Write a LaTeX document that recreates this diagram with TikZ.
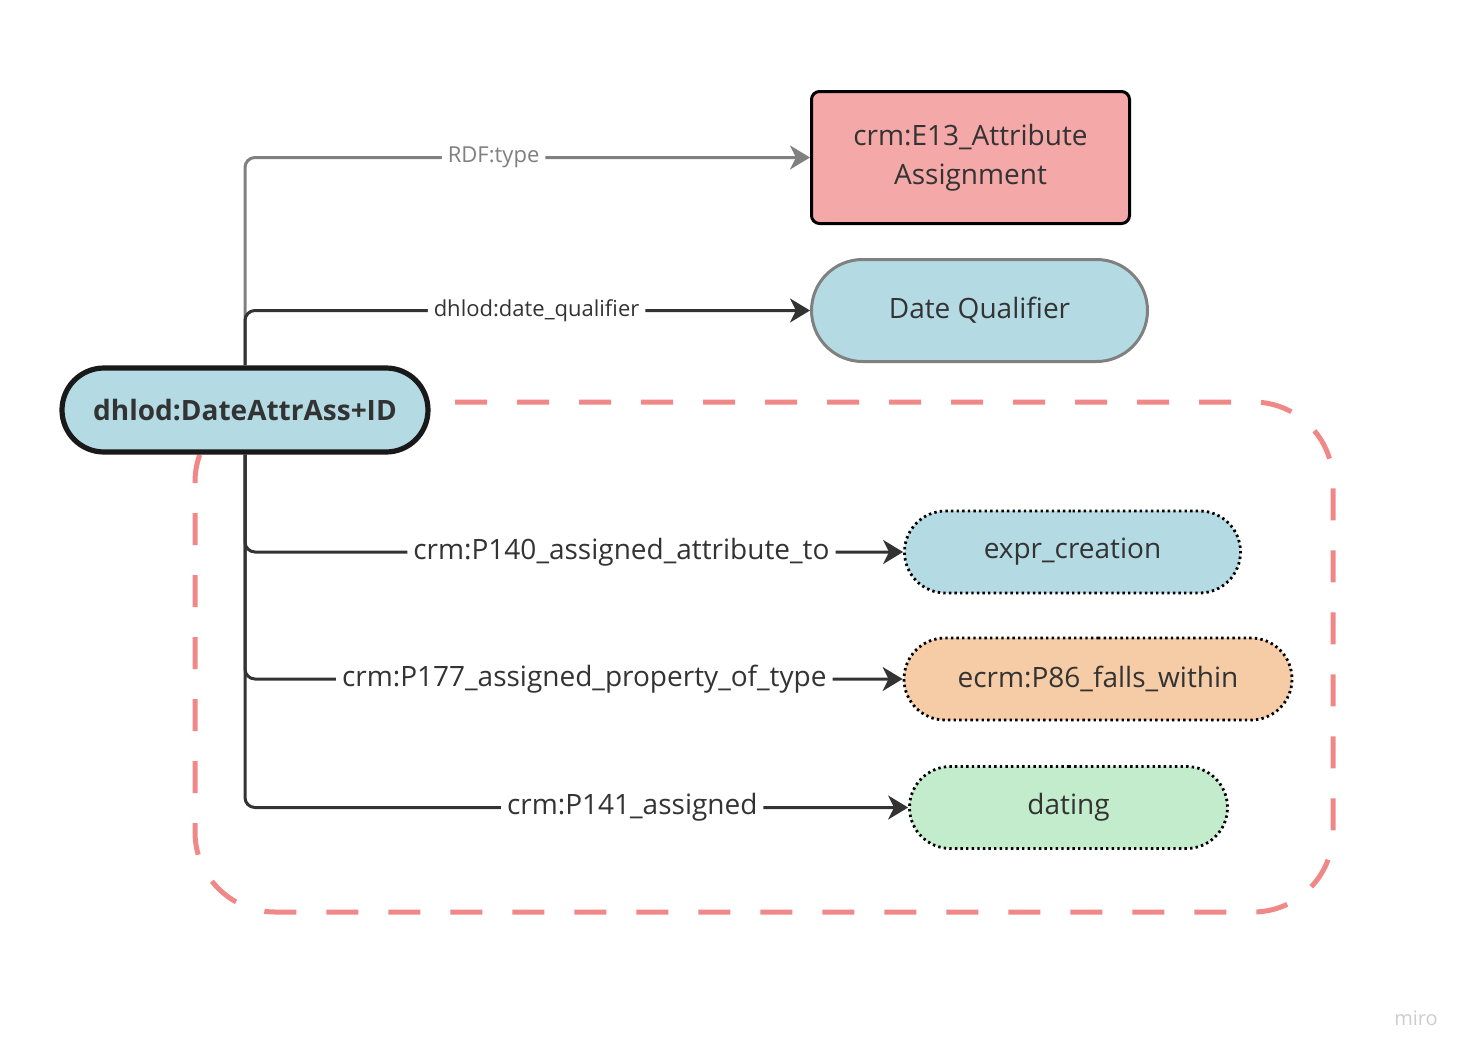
\documentclass[tikz,border=0pt]{standalone}
\usepackage{fontspec}
\setmainfont{Open Sans}
\usetikzlibrary{arrows.meta, shapes.misc}
\definecolor{nodeblue}{RGB}{180, 219, 228}
\definecolor{nodepink}{RGB}{245, 168, 168}
\definecolor{nodepeach}{RGB}{245, 204, 165}
\definecolor{nodegreen}{RGB}{194, 236, 204}
\definecolor{groupred}{RGB}{240, 136, 136}
\definecolor{linedark}{RGB}{51, 51, 51}
\definecolor{linegray}{RGB}{128, 128, 128}
\tikzset{
    every node/.style={font=\fontsize{14}{19.5}\selectfont, text=linedark},
    pill/.style={rounded rectangle, minimum height=41pt, inner sep=0pt},
    dotbox/.style={pill, draw=black, line width=1.4pt,
        dash pattern=on 1.2pt off 1.6pt},
    link/.style={draw=linedark, line width=1.5pt, rounded corners=5pt,
        -{Stealth[length=10pt, width=12pt, inset=3pt]}},
    graylink/.style={link, draw=linegray},
    linklabel/.style={fill=white, inner xsep=3pt, inner ysep=1pt},
    smalllabel/.style={linklabel, font=\fontsize{11}{13}\selectfont},
}

\begin{document}
\begin{tikzpicture}[x=0.5pt, y=-0.5pt]
    \useasboundingbox (0, 0) rectangle (1473, 1060);
    \draw[groupred, line width=2.5pt, rounded corners=40pt,
        dash pattern=on 16pt off 15pt, dash phase=15.5pt]
        (195, 402) rectangle (1333, 912);
    \node[draw=black, fill=nodepink, line width=1.5pt, rounded corners=4pt,
        minimum width=159pt, minimum height=66pt, align=center]
        (e13) at (970.5, 157.5) {crm:E13\_Attribute\\Assignment};
    \node[pill, draw=linegray, fill=nodeblue, line width=1.5pt,
        minimum width=168pt, minimum height=51pt]
        (qual) at (979.5, 310.5) {Date Qualifier};
    \node[pill, draw=black!90, fill=nodeblue, line width=2.6pt,
        minimum width=183pt, minimum height=42pt,
        font=\fontsize{14}{17}\selectfont\bfseries]
        (main) at (245, 410) {dhlod:DateAttrAss+ID};
    \node[dotbox, fill=nodeblue, minimum width=168pt]
        (expr) at (1072.5, 552) {expr\_creation};
    \node[dotbox, fill=nodepeach, minimum width=194pt]
        (falls) at (1098, 679) {ecrm:P86\_falls\_within};
    \node[dotbox, fill=nodegreen, minimum width=159pt]
        (dating) at (1068.5, 807.5) {dating};
    \draw[graylink] (main.north) |- node[smalllabel, pos=0.72,
        text=linegray] {RDF:type} (e13.west);
    \draw[link] (main.north) |- node[smalllabel, pos=0.758]
        {dhlod:date\_qualifier} (qual.west);
    \draw[link] (main.south) |- node[linklabel, pos=0.786]
        {crm:P140\_assigned\_attribute\_to} (expr.west);
    \draw[link] (main.south) |- node[linklabel, pos=0.758]
        {crm:P177\_assigned\_property\_of\_type} (falls.west);
    \draw[link] (main.south) |- node[linklabel, pos=0.792]
        {crm:P141\_assigned} (dating.west);
    \node[font=\fontsize{10}{12}\selectfont, text=black!20] (logo)
        at (1416, 1018) {miro};
\end{tikzpicture}
\end{document}
